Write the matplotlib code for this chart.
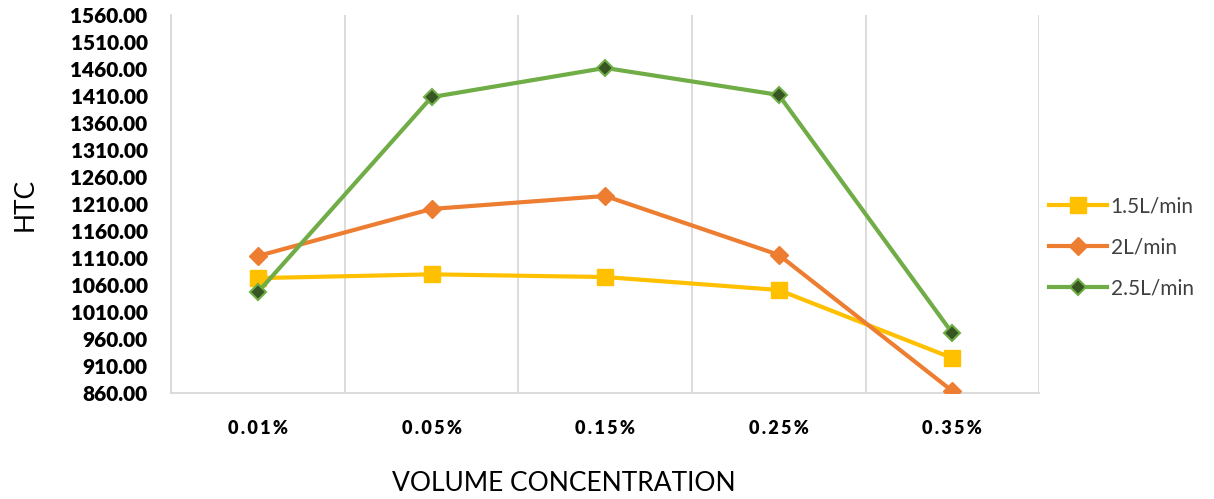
import matplotlib
matplotlib.use("Agg")
import matplotlib.pyplot as plt
import numpy as np

plt.rcParams['font.family'] = ['Lato', 'DejaVu Sans']

concentrations = ["0.01%", "0.05%", "0.15%", "0.25%", "0.35%"]
htc_15 = [1073, 1080, 1075, 1051, 925]
htc_20 = [1114, 1201, 1225, 1116, 864]
htc_25 = [1047, 1408, 1462, 1412, 971]
y_ticks = np.arange(860, 1561, 50)

fig = plt.figure(figsize=(12.14, 4.99), dpi=100)
ax = fig.add_axes([0.141, 0.212, 0.715, 0.758])

x = np.arange(len(concentrations))
ax.plot(x, htc_15, color="#FFC000", lw=3, marker="s", ms=11,
        label="1.5L/min", zorder=3)
ax.plot(x, htc_20, color="#ED7D31", lw=3, marker="D", ms=9,
        label="2L/min", zorder=3)
ax.plot(x, htc_25, color="#70AD47", lw=3, marker="D", ms=8,
        markerfacecolor="#375623", markeredgecolor="#70AD47", mew=1.5,
        label="2.5L/min", zorder=4)

ax.set_xlim(-0.5, len(concentrations) - 0.5)
ax.set_ylim(860, 1560)
ax.set_yticks(y_ticks)
ax.set_yticklabels([f"{v:.2f}" for v in y_ticks], fontsize=15, fontweight="heavy")
ax.set_xticks(x)
# spaced-out category labels
ax.set_xticklabels(["\u2009".join(c) for c in concentrations],
                   fontsize=13, fontweight="heavy")
ax.tick_params(axis="both", length=0)
ax.tick_params(axis="x", pad=19)
ax.tick_params(axis="y", pad=17)

# vertical separators between categories
ax.set_xticks(np.arange(-0.5, len(concentrations)), minor=True)
ax.grid(which="minor", axis="x", color="#D9D9D9", lw=1.3)
ax.tick_params(which="minor", length=0)
for side in ["top", "right"]:
    ax.spines[side].set_visible(False)
for side in ["left", "bottom"]:
    ax.spines[side].set_color("#D9D9D9")
    ax.spines[side].set_linewidth(1.3)

fig.text(564 / 1214, 0.032, "VOLUME CONCENTRATION", fontsize=19,
         ha="center", va="center")
fig.text(25 / 1214, 0.59, "HTC", fontsize=19, rotation=90,
         ha="center", va="center")

leg = ax.legend(loc="center left", bbox_to_anchor=(0.99, 0.386), frameon=False,
                fontsize=15, handlelength=2.75, labelspacing=1.0,
                handletextpad=0.2)
for t in leg.get_texts():
    t.set_color("#404040")

fig.savefig("out.png", dpi=100)
